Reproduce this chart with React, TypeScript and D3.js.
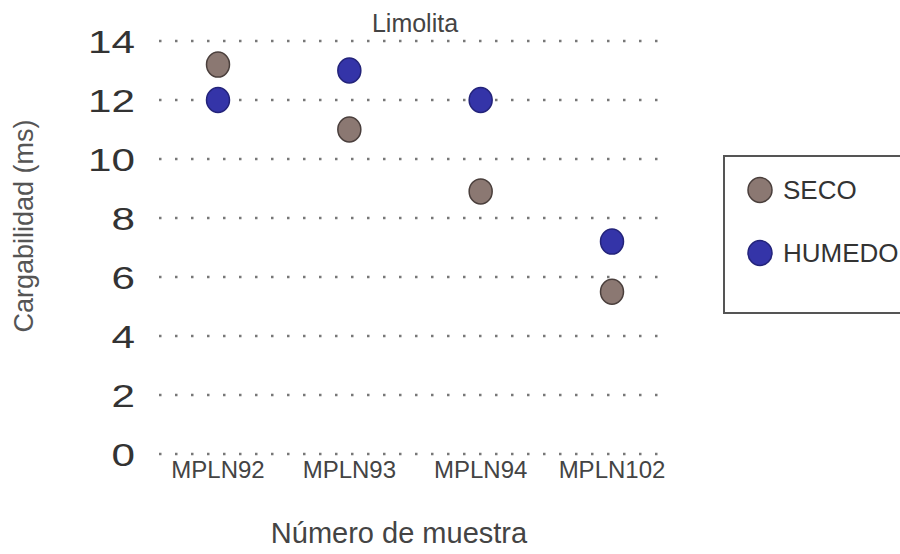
import React from "react";
import * as d3 from "d3";

const categories = ["MPLN92", "MPLN93", "MPLN94", "MPLN102"];
const secoValues = [13.2, 11.0, 8.9, 5.5];
const humedoValues = [12.0, 13.0, 12.0, 7.2];
const yTicks = [0, 2, 4, 6, 8, 10, 12, 14];
const seriesNames = ["SECO", "HUMEDO"];

const W = 900;
const H = 554;

export default function App() {
  const y = d3.scaleLinear().domain([0, 14]).range([454, 41]);
  const x = d3.scalePoint<string>().domain(categories).range([218, 612]);
  const gridX0 = 159;
  const gridX1 = 660;
  const font = "'Liberation Sans', Arial, sans-serif";
  const colors: Record<string, { fill: string; stroke: string }> = {
    SECO: { fill: "#8b7872", stroke: "#4a3f3c" },
    HUMEDO: { fill: "#3434a8", stroke: "#23237a" },
  };
  const series = [
    { name: seriesNames[0], values: secoValues },
    { name: seriesNames[1], values: humedoValues },
  ];

  return (
    <svg
      width={W}
      height={H}
      style={{ position: "absolute", left: 0, top: 0, background: "#fff" }}
      fontFamily={font}
    >
      {/* gridlines */}
      {yTicks.map((t) => (
        <line
          key={"g" + t}
          x1={gridX0}
          x2={gridX1}
          y1={y(t)}
          y2={y(t)}
          stroke="#777"
          strokeWidth={2.5}
          strokeDasharray="2.5 13.5"
        />
      ))}
      {/* y tick labels */}
      {yTicks.map((t) => (
        <g key={"t" + t} transform={`translate(135,${y(t)}) scale(1.32,1)`}>
          <text x={0} y={0} dy="0.36em" textAnchor="end" fontSize={32} fill="#333">
            {t}
          </text>
        </g>
      ))}
      {/* x labels */}
      {categories.map((c) => (
        <text key={"x" + c} x={x(c)} y={478} textAnchor="middle" fontSize={24} fill="#444">
          {c}
        </text>
      ))}
      {/* points */}
      {series.map((s) =>
        s.values.map((v, i) => (
          <ellipse
            key={s.name + i}
            cx={x(categories[i])}
            cy={y(v)}
            rx={11.5}
            ry={12.5}
            fill={colors[s.name].fill}
            stroke={colors[s.name].stroke}
            strokeWidth={1.5}
          />
        ))
      )}
      {/* title */}
      <text x={415} y={32} textAnchor="middle" fontSize={25} fill="#444">
        Limolita
      </text>
      {/* axis titles */}
      <text
        transform={`translate(33,226) rotate(-90)`}
        textAnchor="middle"
        fontSize={27}
        fill="#555"
      >
        Cargabilidad (ms)
      </text>
      <text x={399} y={543} textAnchor="middle" fontSize={29} fill="#444">
        Número de muestra
      </text>
      {/* legend */}
      <rect x={724} y={156} width={200} height={157} fill="#fff" stroke="#555" strokeWidth={2} />
      {series.map((s, i) => (
        <g key={"l" + s.name} transform={`translate(760,${190 + i * 63})`}>
          <ellipse
            cx={0}
            cy={0}
            rx={12}
            ry={12.5}
            fill={colors[s.name].fill}
            stroke={colors[s.name].stroke}
            strokeWidth={1.5}
          />
          <text x={23} y={0} dy="0.36em" fontSize={26} fill="#333">
            {s.name}
          </text>
        </g>
      ))}
    </svg>
  );
}
